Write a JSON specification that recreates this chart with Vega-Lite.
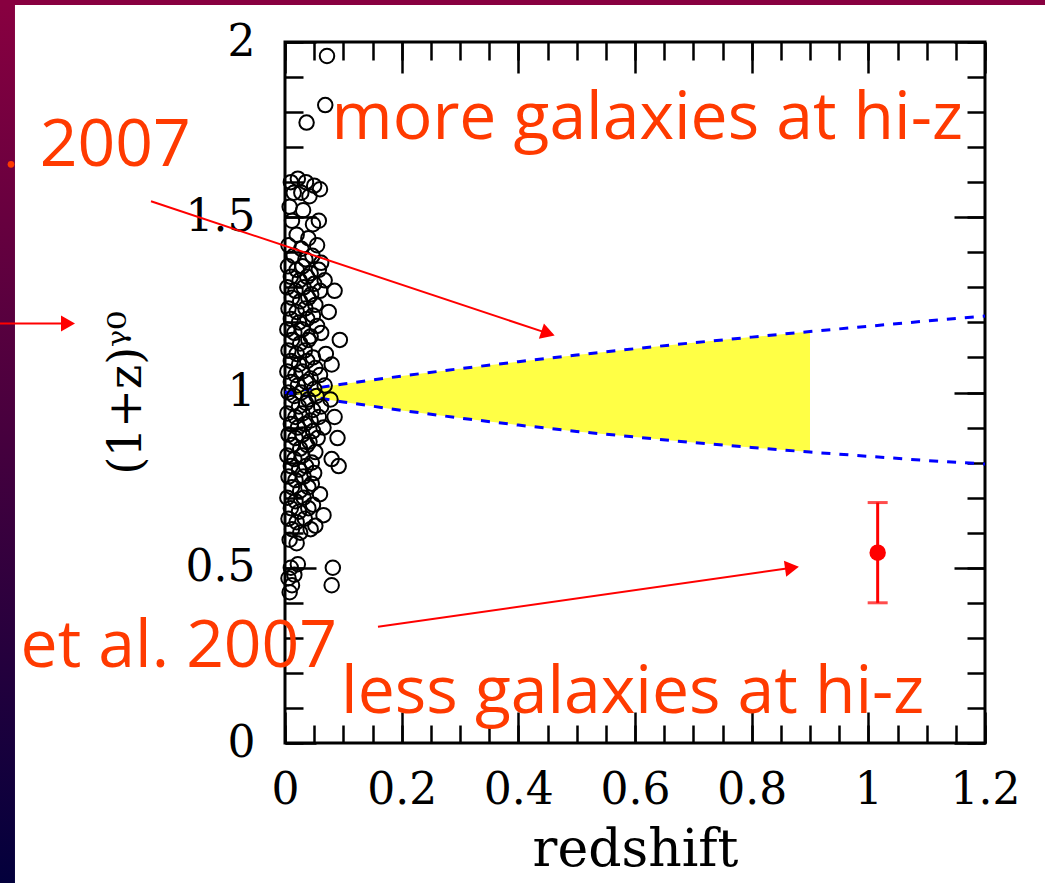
{
  "$schema": "https://vega.github.io/schema/vega-lite/v6.json",
  "width": 700,
  "height": 701,
  "autosize": {"type": "none"},
  "padding": {"left": 285, "top": 42, "right": 60, "bottom": 140},
  "background": "white",
  "config": {
    "view": {"stroke": "black", "strokeWidth": 3},
    "axis": {"grid": false, "domain": false, "tickColor": "black", "tickWidth": 2.5, "labelColor": "black", "titleColor": "black", "labelFont": "DejaVu Serif", "titleFont": "DejaVu Serif", "titleFontWeight": "normal"}
  },
  "datasets": {
    "band": [
      {"z": 0.02, "lo": 0.995, "hi": 1.005}, {"z": 0.05, "lo": 0.986, "hi": 1.012}, {"z": 0.1, "lo": 0.973, "hi": 1.024},
      {"z": 0.2, "lo": 0.949, "hi": 1.047}, {"z": 0.3, "lo": 0.927, "hi": 1.068}, {"z": 0.4, "lo": 0.907, "hi": 1.088},
      {"z": 0.5, "lo": 0.889, "hi": 1.107}, {"z": 0.6, "lo": 0.873, "hi": 1.125}, {"z": 0.7, "lo": 0.857, "hi": 1.142},
      {"z": 0.8, "lo": 0.843, "hi": 1.158}, {"z": 0.9, "lo": 0.830, "hi": 1.174}
    ],
    "curve": [
      {"z": 0.0, "bound": "upper", "y": 1.0}, {"z": 0.1, "bound": "upper", "y": 1.024}, {"z": 0.2, "bound": "upper", "y": 1.047},
      {"z": 0.3, "bound": "upper", "y": 1.068}, {"z": 0.4, "bound": "upper", "y": 1.088}, {"z": 0.5, "bound": "upper", "y": 1.107},
      {"z": 0.6, "bound": "upper", "y": 1.125}, {"z": 0.7, "bound": "upper", "y": 1.142}, {"z": 0.8, "bound": "upper", "y": 1.158},
      {"z": 0.9, "bound": "upper", "y": 1.174}, {"z": 1.0, "bound": "upper", "y": 1.189}, {"z": 1.1, "bound": "upper", "y": 1.204},
      {"z": 1.2, "bound": "upper", "y": 1.218},
      {"z": 0.0, "bound": "lower", "y": 1.0}, {"z": 0.1, "bound": "lower", "y": 0.973}, {"z": 0.2, "bound": "lower", "y": 0.949},
      {"z": 0.3, "bound": "lower", "y": 0.927}, {"z": 0.4, "bound": "lower", "y": 0.907}, {"z": 0.5, "bound": "lower", "y": 0.889},
      {"z": 0.6, "bound": "lower", "y": 0.873}, {"z": 0.7, "bound": "lower", "y": 0.857}, {"z": 0.8, "bound": "lower", "y": 0.843},
      {"z": 0.9, "bound": "lower", "y": 0.830}, {"z": 1.0, "bound": "lower", "y": 0.818}, {"z": 1.1, "bound": "lower", "y": 0.806},
      {"z": 1.2, "bound": "lower", "y": 0.796}
    ],
    "gal": [
      {"z":0.072,"g":1.96},{"z":0.069,"g":1.82},{"z":0.037,"g":1.77},
      {"z":0.010,"g":1.60},{"z":0.022,"g":1.61},{"z":0.036,"g":1.60},{"z":0.050,"g":1.59},{"z":0.060,"g":1.58},
      {"z":0.015,"g":1.57},{"z":0.042,"g":1.56},{"z":0.028,"g":1.57},
      {"z":0.008,"g":1.53},{"z":0.031,"g":1.52},
      {"z":0.012,"g":1.49},{"z":0.048,"g":1.48},{"z":0.058,"g":1.49},
      {"z":0.020,"g":1.45},{"z":0.040,"g":1.44},
      {"z":0.006,"g":1.42},{"z":0.028,"g":1.41},{"z":0.055,"g":1.42},
      {"z":0.015,"g":1.39},{"z":0.035,"g":1.38},{"z":0.047,"g":1.39},{"z":0.062,"g":1.37},
      {"z":0.005,"g":1.36},{"z":0.020,"g":1.35},{"z":0.030,"g":1.36},{"z":0.044,"g":1.34},{"z":0.058,"g":1.35},
      {"z":0.010,"g":1.33},{"z":0.025,"g":1.32},{"z":0.038,"g":1.33},{"z":0.050,"g":1.31},{"z":0.068,"g":1.32},
      {"z":0.004,"g":1.30},{"z":0.018,"g":1.29},{"z":0.032,"g":1.30},{"z":0.045,"g":1.28},{"z":0.060,"g":1.29},{"z":0.085,"g":1.29},
      {"z":0.012,"g":1.27},{"z":0.026,"g":1.26},{"z":0.040,"g":1.27},{"z":0.052,"g":1.25},
      {"z":0.006,"g":1.24},{"z":0.020,"g":1.23},{"z":0.035,"g":1.24},{"z":0.048,"g":1.22},{"z":0.075,"g":1.23},
      {"z":0.010,"g":1.21},{"z":0.024,"g":1.20},{"z":0.038,"g":1.21},{"z":0.055,"g":1.19},
      {"z":0.004,"g":1.18},{"z":0.016,"g":1.17},{"z":0.030,"g":1.18},{"z":0.044,"g":1.16},{"z":0.062,"g":1.17},
      {"z":0.012,"g":1.15},{"z":0.026,"g":1.14},{"z":0.040,"g":1.15},{"z":0.094,"g":1.15},
      {"z":0.006,"g":1.12},{"z":0.020,"g":1.11},{"z":0.034,"g":1.12},{"z":0.048,"g":1.10},{"z":0.070,"g":1.11},
      {"z":0.010,"g":1.09},{"z":0.024,"g":1.08},{"z":0.038,"g":1.09},{"z":0.052,"g":1.07},{"z":0.080,"g":1.08},
      {"z":0.004,"g":1.06},{"z":0.018,"g":1.05},{"z":0.030,"g":1.06},{"z":0.044,"g":1.04},{"z":0.060,"g":1.05},
      {"z":0.010,"g":1.03},{"z":0.022,"g":1.02},{"z":0.036,"g":1.03},{"z":0.050,"g":1.01},{"z":0.068,"g":1.02},
      {"z":0.006,"g":1.00},{"z":0.016,"g":0.99},{"z":0.028,"g":1.00},{"z":0.040,"g":0.98},{"z":0.054,"g":0.99},{"z":0.078,"g":0.98},
      {"z":0.012,"g":0.97},{"z":0.024,"g":0.96},{"z":0.036,"g":0.97},{"z":0.048,"g":0.95},{"z":0.062,"g":0.96},
      {"z":0.004,"g":0.94},{"z":0.018,"g":0.93},{"z":0.030,"g":0.94},{"z":0.044,"g":0.92},{"z":0.058,"g":0.93},{"z":0.085,"g":0.93},
      {"z":0.010,"g":0.91},{"z":0.022,"g":0.90},{"z":0.034,"g":0.91},{"z":0.048,"g":0.89},{"z":0.066,"g":0.90},
      {"z":0.006,"g":0.88},{"z":0.018,"g":0.87},{"z":0.030,"g":0.88},{"z":0.042,"g":0.86},{"z":0.056,"g":0.87},{"z":0.090,"g":0.87},
      {"z":0.012,"g":0.85},{"z":0.026,"g":0.84},{"z":0.038,"g":0.85},{"z":0.052,"g":0.83},
      {"z":0.004,"g":0.82},{"z":0.016,"g":0.81},{"z":0.030,"g":0.82},{"z":0.046,"g":0.80},{"z":0.080,"g":0.81},
      {"z":0.010,"g":0.79},{"z":0.024,"g":0.78},{"z":0.036,"g":0.79},{"z":0.050,"g":0.77},{"z":0.092,"g":0.79},
      {"z":0.006,"g":0.76},{"z":0.018,"g":0.75},{"z":0.032,"g":0.76},{"z":0.046,"g":0.74},
      {"z":0.012,"g":0.73},{"z":0.026,"g":0.72},{"z":0.040,"g":0.73},{"z":0.060,"g":0.71},
      {"z":0.004,"g":0.70},{"z":0.018,"g":0.69},{"z":0.032,"g":0.70},{"z":0.048,"g":0.68},
      {"z":0.010,"g":0.67},{"z":0.024,"g":0.66},{"z":0.040,"g":0.67},{"z":0.066,"g":0.65},
      {"z":0.006,"g":0.64},{"z":0.020,"g":0.63},{"z":0.034,"g":0.64},{"z":0.052,"g":0.62},
      {"z":0.012,"g":0.61},{"z":0.026,"g":0.60},{"z":0.044,"g":0.61},
      {"z":0.008,"g":0.58},{"z":0.020,"g":0.57},
      {"z":0.010,"g":0.50},{"z":0.022,"g":0.51},{"z":0.082,"g":0.50},
      {"z":0.006,"g":0.47},{"z":0.016,"g":0.48},
      {"z":0.012,"g":0.45},{"z":0.080,"g":0.45},
      {"z":0.008,"g":0.43}
    ],
    "meas": [{"z": 1.016, "v": 0.543, "lo": 0.40, "hi": 0.686}],
    "notes": [
      {"label": "more galaxies at hi-z", "z": 0.621, "y": 1.723},
      {"label": "less galaxies at hi-z", "z": 0.596, "y": 0.086},
      {"label": "2007", "z": -0.291, "y": 1.646},
      {"label": "et al. 2007", "z": -0.182, "y": 0.217}
    ],
    "arrows": [
      {"name": "a1", "z": -0.2297, "y": 1.5457, "z2": 0.4509, "y2": 1.1686},
      {"name": "a2", "z": 0.1594, "y": 0.3314, "z2": 0.8691, "y2": 0.5},
      {"name": "a3", "z": -0.4886, "y": 1.197, "z2": -0.372, "y2": 1.197}
    ],
    "bullet": [{"z": -0.4697, "y": 1.651}],
    "frame": [{"part": "slide"}]
  },
  "resolve": {"axis": {"x": "independent", "y": "independent"}},
  "layer": [
    {
      "data": {"name": "frame"},
      "mark": {"type": "rect", "fill": {"gradient": "linear", "x1": 0, "y1": 0, "x2": 0, "y2": 1, "stops": [{"offset": 0, "color": "#8a0040"}, {"offset": 1, "color": "#00003c"}]}},
      "encoding": {
        "x": {"datum": -0.52, "type": "quantitative", "scale": {"domain": [0, 1.2], "nice": false}, "axis": null},
        "x2": {"datum": -0.4629},
        "y": {"datum": 2.15, "type": "quantitative", "scale": {"domain": [0, 2], "nice": false}, "axis": null},
        "y2": {"datum": -0.45}
      }
    },
    {
      "data": {"name": "frame"},
      "mark": {"type": "rect", "fill": "#880040"},
      "encoding": {
        "x": {"datum": -0.52, "type": "quantitative", "scale": {"domain": [0, 1.2], "nice": false}, "axis": null},
        "x2": {"datum": 1.32},
        "y": {"datum": 2.15, "type": "quantitative", "scale": {"domain": [0, 2], "nice": false}, "axis": null},
        "y2": {"datum": 2.1057}
      }
    },
    {
      "data": {"name": "band"},
      "mark": {"type": "area", "color": "#ffff45", "opacity": 1},
      "encoding": {
        "x": {"field": "z", "type": "quantitative", "scale": {"domain": [0, 1.2], "nice": false},
          "axis": {"orient": "bottom", "values": [0, 0.2, 0.4, 0.6, 0.8, 1, 1.2], "format": "~g", "ticks": false, "labelFlush": false, "labelOverlap": false, "labelPadding": 25, "labelFontSize": 44, "title": "redshift", "titleFontSize": 52, "titlePadding": 12}},
        "y": {"field": "lo", "type": "quantitative", "scale": {"domain": [0, 2], "nice": false},
          "axis": {"orient": "left", "values": [0, 0.5, 1, 1.5, 2], "format": "~g", "ticks": false, "labelOverlap": false, "labelPadding": 30, "labelFontSize": 44, "title": "(1+z)ᵞ⁰", "titleFontSize": 46, "titlePadding": 35}},
        "y2": {"field": "hi"}
      }
    },
    {
      "data": {"name": "curve"},
      "mark": {"type": "line", "color": "#0000ff", "strokeWidth": 3, "strokeDash": [9, 9]},
      "encoding": {
        "x": {"field": "z", "type": "quantitative", "scale": {"domain": [0, 1.2], "nice": false},
          "axis": {"orient": "bottom", "values": [0, 0.2, 0.4, 0.6, 0.8, 1, 1.2], "labels": false, "tickSize": -31, "title": null}},
        "y": {"field": "y", "type": "quantitative", "scale": {"domain": [0, 2], "nice": false},
          "axis": {"orient": "left", "values": [0, 0.5, 1, 1.5, 2], "labels": false, "tickSize": -31, "title": null}},
        "detail": {"field": "bound"}
      }
    },
    {
      "data": {"name": "gal"},
      "mark": {"type": "point", "shape": "circle", "filled": false, "color": "black", "strokeWidth": 2, "size": 210, "opacity": 1},
      "encoding": {
        "x": {"field": "z", "type": "quantitative", "scale": {"domain": [0, 1.2], "nice": false},
          "axis": {"orient": "top", "values": [0, 0.2, 0.4, 0.6, 0.8, 1, 1.2], "labels": false, "tickSize": -31, "title": null}},
        "y": {"field": "g", "type": "quantitative", "scale": {"domain": [0, 2], "nice": false},
          "axis": {"orient": "right", "values": [0, 0.5, 1, 1.5, 2], "labels": false, "tickSize": -31, "title": null}}
      }
    },
    {
      "data": {"name": "meas"},
      "mark": {"type": "rule", "color": "#ff0000", "strokeWidth": 3},
      "encoding": {
        "x": {"field": "z", "type": "quantitative", "scale": {"domain": [0, 1.2], "nice": false},
          "axis": {"orient": "bottom", "values": [0, 0.05, 0.1, 0.15, 0.2, 0.25, 0.3, 0.35, 0.4, 0.45, 0.5, 0.55, 0.6, 0.65, 0.7, 0.75, 0.8, 0.85, 0.9, 0.95, 1, 1.05, 1.1, 1.15, 1.2], "labels": false, "tickSize": -18, "title": null}},
        "y": {"field": "lo", "type": "quantitative", "scale": {"domain": [0, 2], "nice": false},
          "axis": {"orient": "left", "values": [0, 0.1, 0.2, 0.3, 0.4, 0.5, 0.6, 0.7, 0.8, 0.9, 1, 1.1, 1.2, 1.3, 1.4, 1.5, 1.6, 1.7, 1.8, 1.9, 2], "labels": false, "tickSize": -18, "title": null}},
        "y2": {"field": "hi"}
      }
    },
    {
      "data": {"name": "meas"},
      "mark": {"type": "point", "shape": "circle", "filled": true, "color": "#ff0000", "size": 270, "opacity": 1},
      "encoding": {
        "x": {"field": "z", "type": "quantitative", "scale": {"domain": [0, 1.2], "nice": false},
          "axis": {"orient": "top", "values": [0, 0.05, 0.1, 0.15, 0.2, 0.25, 0.3, 0.35, 0.4, 0.45, 0.5, 0.55, 0.6, 0.65, 0.7, 0.75, 0.8, 0.85, 0.9, 0.95, 1, 1.05, 1.1, 1.15, 1.2], "labels": false, "tickSize": -18, "title": null}},
        "y": {"field": "v", "type": "quantitative", "scale": {"domain": [0, 2], "nice": false},
          "axis": {"orient": "right", "values": [0, 0.1, 0.2, 0.3, 0.4, 0.5, 0.6, 0.7, 0.8, 0.9, 1, 1.1, 1.2, 1.3, 1.4, 1.5, 1.6, 1.7, 1.8, 1.9, 2], "labels": false, "tickSize": -18, "title": null}}
      }
    },
    {
      "data": {"name": "meas"},
      "mark": {"type": "tick", "orient": "horizontal", "color": "#ff0000", "size": 20, "thickness": 3},
      "encoding": {
        "x": {"field": "z", "type": "quantitative", "scale": {"domain": [0, 1.2], "nice": false}, "axis": null},
        "y": {"field": "lo", "type": "quantitative", "scale": {"domain": [0, 2], "nice": false}, "axis": null}
      }
    },
    {
      "data": {"name": "meas"},
      "mark": {"type": "tick", "orient": "horizontal", "color": "#ff0000", "size": 20, "thickness": 3},
      "encoding": {
        "x": {"field": "z", "type": "quantitative", "scale": {"domain": [0, 1.2], "nice": false}, "axis": null},
        "y": {"field": "hi", "type": "quantitative", "scale": {"domain": [0, 2], "nice": false}, "axis": null}
      }
    },
    {
      "data": {"name": "notes"},
      "mark": {"type": "text", "font": "Open Sans", "fontSize": 66, "color": "#ff3a00", "align": "center", "baseline": "alphabetic"},
      "encoding": {
        "x": {"field": "z", "type": "quantitative", "scale": {"domain": [0, 1.2], "nice": false}, "axis": null},
        "y": {"field": "y", "type": "quantitative", "scale": {"domain": [0, 2], "nice": false}, "axis": null},
        "text": {"field": "label"}
      }
    },
    {
      "data": {"name": "arrows"},
      "mark": {"type": "rule", "color": "#ff0000", "strokeWidth": 2},
      "encoding": {
        "x": {"field": "z", "type": "quantitative", "scale": {"domain": [0, 1.2], "nice": false}, "axis": null},
        "y": {"field": "y", "type": "quantitative", "scale": {"domain": [0, 2], "nice": false}, "axis": null},
        "x2": {"field": "z2"},
        "y2": {"field": "y2"}
      }
    },
    {
      "data": {"name": "arrows"},
      "mark": {"type": "point", "shape": "triangle-right", "filled": true, "color": "#ff0000", "size": 260, "opacity": 1},
      "encoding": {
        "x": {"field": "z2", "type": "quantitative", "scale": {"domain": [0, 1.2], "nice": false}, "axis": null},
        "y": {"field": "y2", "type": "quantitative", "scale": {"domain": [0, 2], "nice": false}, "axis": null},
        "angle": {"condition": [{"test": "datum.name === 'a1'", "value": 18.4}, {"test": "datum.name === 'a2'", "value": -8.1}], "value": 0}
      }
    },
    {
      "data": {"name": "bullet"},
      "mark": {"type": "point", "shape": "circle", "filled": true, "color": "#ff3a00", "size": 45, "opacity": 1},
      "encoding": {
        "x": {"field": "z", "type": "quantitative", "scale": {"domain": [0, 1.2], "nice": false}, "axis": null},
        "y": {"field": "y", "type": "quantitative", "scale": {"domain": [0, 2], "nice": false}, "axis": null}
      }
    }
  ]
}
